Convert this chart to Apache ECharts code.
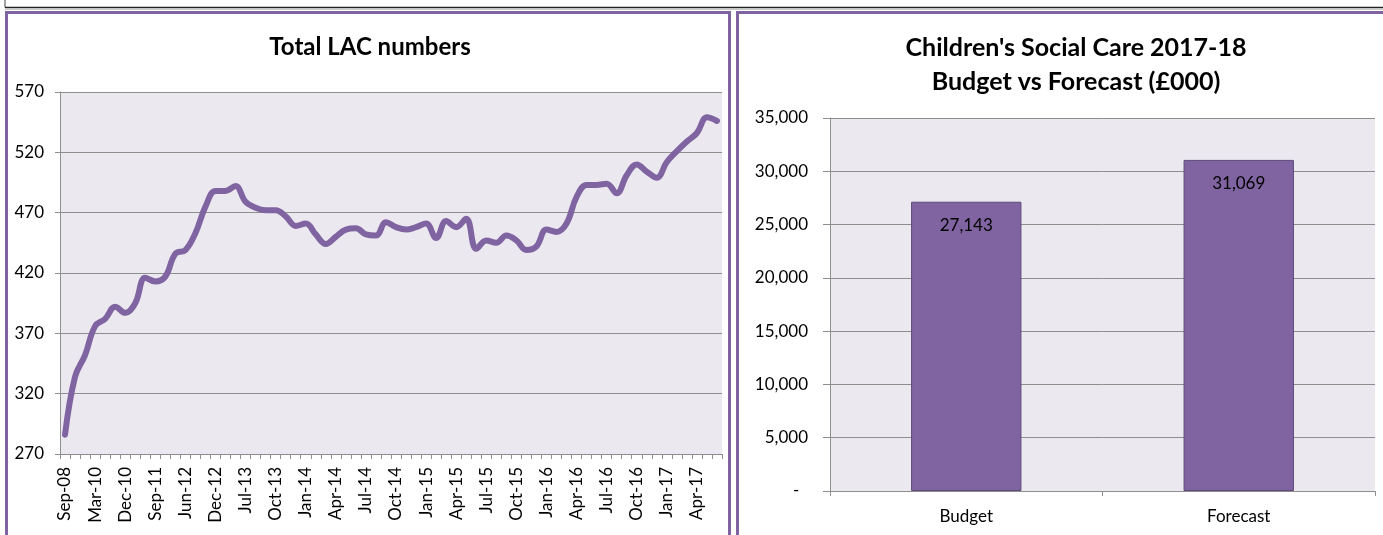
<!DOCTYPE html>
<html>
<head>
<meta charset="utf-8">
<script src="https://cdn.jsdelivr.net/npm/echarts@6/dist/echarts.min.js"></script>
<style>
  html, body { margin: 0; padding: 0; background: #ffffff; }
  #chart { width: 1383px; height: 535px; }
</style>
</head>
<body>
<div id="chart"></div>
<script>
// Looked-after children: reporting points (irregular early on, monthly from Jul-13)
const lacMonths = [
  'Sep-08', 'Mar-09', 'Sep-09', 'Mar-10', 'Jun-10', 'Sep-10', 'Dec-10', 'Mar-11', 'Jun-11', 'Sep-11',
  'Dec-11', 'Mar-12', 'Jun-12', 'Aug-12', 'Oct-12', 'Dec-12', 'Feb-13', 'Apr-13', 'Jul-13', 'Aug-13',
  'Sep-13', 'Oct-13', 'Nov-13', 'Dec-13', 'Jan-14', 'Feb-14', 'Mar-14', 'Apr-14', 'May-14', 'Jun-14',
  'Jul-14', 'Aug-14', 'Sep-14', 'Oct-14', 'Nov-14', 'Dec-14', 'Jan-15', 'Feb-15', 'Mar-15', 'Apr-15',
  'May-15', 'Jun-15', 'Jul-15', 'Aug-15', 'Sep-15', 'Oct-15', 'Nov-15', 'Dec-15', 'Jan-16', 'Feb-16',
  'Mar-16', 'Apr-16', 'May-16', 'Jun-16', 'Jul-16', 'Aug-16', 'Sep-16', 'Oct-16', 'Nov-16', 'Dec-16',
  'Jan-17', 'Feb-17', 'Mar-17', 'Apr-17', 'May-17', 'Jun-17'
];
const lacNumbers = [
  286, 334, 352, 376, 382, 392, 387, 395, 416, 413,
  417, 436, 439, 453, 475, 488, 488, 492, 479, 474,
  472, 472, 467, 459, 461, 452, 444, 450, 456, 457,
  452, 451, 462, 458, 456, 458, 461, 449, 463, 458,
  465, 440, 447, 445, 451, 447, 439, 442, 456, 454,
  461, 483, 493, 493, 494, 486, 501, 510, 504, 499,
  512, 521, 529, 536, 549, 546
];
const lacAxis = { min: 270, max: 570, step: 50 };

// Children's Social Care 2017-18, £000
const budgetLabels = ['Budget', 'Forecast'];
const budgetValues = [27143, 31069];
const budgetAxis = { min: 0, max: 35000, step: 5000 };

const PURPLE = '#8064A2';
const PLOT_BG = '#EBE9EF';
const GRID_GREY = '#8E8E8E';
const FONT = 'Lato';

function thousands(v) {
  return String(v).replace(/\B(?=(\d{3})+(?!\d))/g, ',');
}

const chart = echarts.init(document.getElementById('chart'), null, { renderer: 'canvas' });

const axisLabelStyle = { color: '#000', fontFamily: FONT, fontSize: 17 };

chart.setOption({
  animation: false,
  backgroundColor: '#ffffff',
  textStyle: { fontFamily: FONT },
  title: [
    {
      text: 'Total LAC numbers',
      left: 365, top: 25, textAlign: 'center',
      textStyle: { fontFamily: FONT, fontWeight: 'bold', fontSize: 24, lineHeight: 34, color: '#000' }
    },
    {
      text: "Children's Social Care 2017-18\nBudget vs Forecast (£000)",
      left: 1071, top: 26, textAlign: 'center',
      textStyle: { fontFamily: FONT, fontWeight: 'bold', fontSize: 25, lineHeight: 34, color: '#000' }
    }
  ],
  graphic: [
    { type: 'line', shape: { x1: 5, y1: 7.5, x2: 1383, y2: 7.5 }, style: { stroke: '#222', lineWidth: 1.5 } },
    { type: 'line', shape: { x1: 5, y1: 0, x2: 5, y2: 7.5 }, style: { stroke: '#444', lineWidth: 1 } },
    { type: 'line', shape: { x1: 5, y1: 9.5, x2: 1383, y2: 9.5 }, style: { stroke: '#C8C8C8', lineWidth: 1 } },
    { type: 'rect', shape: { x: 6.5, y: 12.5, width: 723, height: 600 },
      style: { fill: 'none', stroke: PURPLE, lineWidth: 3 } },
    { type: 'rect', shape: { x: 737.5, y: 12.5, width: 700, height: 600 },
      style: { fill: 'none', stroke: PURPLE, lineWidth: 3 } }
  ],
  grid: [
    { left: 60, right: 661, top: 92, bottom: 81, show: true, backgroundColor: PLOT_BG, borderWidth: 0 },
    { left: 830, right: 8, top: 118, bottom: 44, show: true, backgroundColor: PLOT_BG, borderWidth: 0 }
  ],
  xAxis: [
    {
      gridIndex: 0, type: 'category', data: lacMonths, boundaryGap: true,
      axisLine: { lineStyle: { color: GRID_GREY, width: 1 } },
      axisTick: { show: true, interval: 0, length: 5, lineStyle: { color: GRID_GREY } },
      axisLabel: Object.assign({ interval: 2, rotate: 90, margin: 13 }, axisLabelStyle),
      splitLine: { show: false }
    },
    {
      gridIndex: 1, type: 'category', data: budgetLabels, boundaryGap: true,
      axisLine: { lineStyle: { color: GRID_GREY, width: 1 } },
      axisTick: { show: true, length: 5, lineStyle: { color: GRID_GREY } },
      axisLabel: Object.assign({ margin: 17 }, axisLabelStyle),
      splitLine: { show: false }
    }
  ],
  yAxis: [
    {
      gridIndex: 0, type: 'value', min: lacAxis.min, max: lacAxis.max, interval: lacAxis.step,
      axisLine: { show: true, lineStyle: { color: GRID_GREY, width: 1 } },
      axisTick: { show: true, length: 5, lineStyle: { color: GRID_GREY } },
      axisLabel: Object.assign({ margin: 16 }, axisLabelStyle),
      splitLine: { show: true, lineStyle: { color: GRID_GREY, width: 1 } }
    },
    {
      gridIndex: 1, type: 'value', min: budgetAxis.min, max: budgetAxis.max, interval: budgetAxis.step,
      axisLine: { show: true, lineStyle: { color: GRID_GREY, width: 1 } },
      axisTick: { show: true, length: 7, lineStyle: { color: GRID_GREY } },
      axisLabel: Object.assign({
        margin: 22,
        formatter: v => (v === 0 ? '-  ' : thousands(v))
      }, axisLabelStyle),
      splitLine: { show: true, lineStyle: { color: GRID_GREY, width: 1 } }
    }
  ],
  series: [
    {
      type: 'line', xAxisIndex: 0, yAxisIndex: 0, data: lacNumbers,
      smooth: 0.4, symbol: 'none',
      lineStyle: { color: PURPLE, width: 6, cap: 'round', join: 'round' }
    },
    {
      type: 'bar', xAxisIndex: 1, yAxisIndex: 1, data: budgetValues,
      barWidth: '40.5%',
      itemStyle: { color: PURPLE, borderColor: '#5D4A78', borderWidth: 1 },
      label: {
        show: true, position: 'insideTop', distance: 15,
        color: '#000', fontFamily: FONT, fontSize: 17,
        formatter: p => thousands(p.value)
      }
    }
  ]
});
</script>
</body>
</html>
